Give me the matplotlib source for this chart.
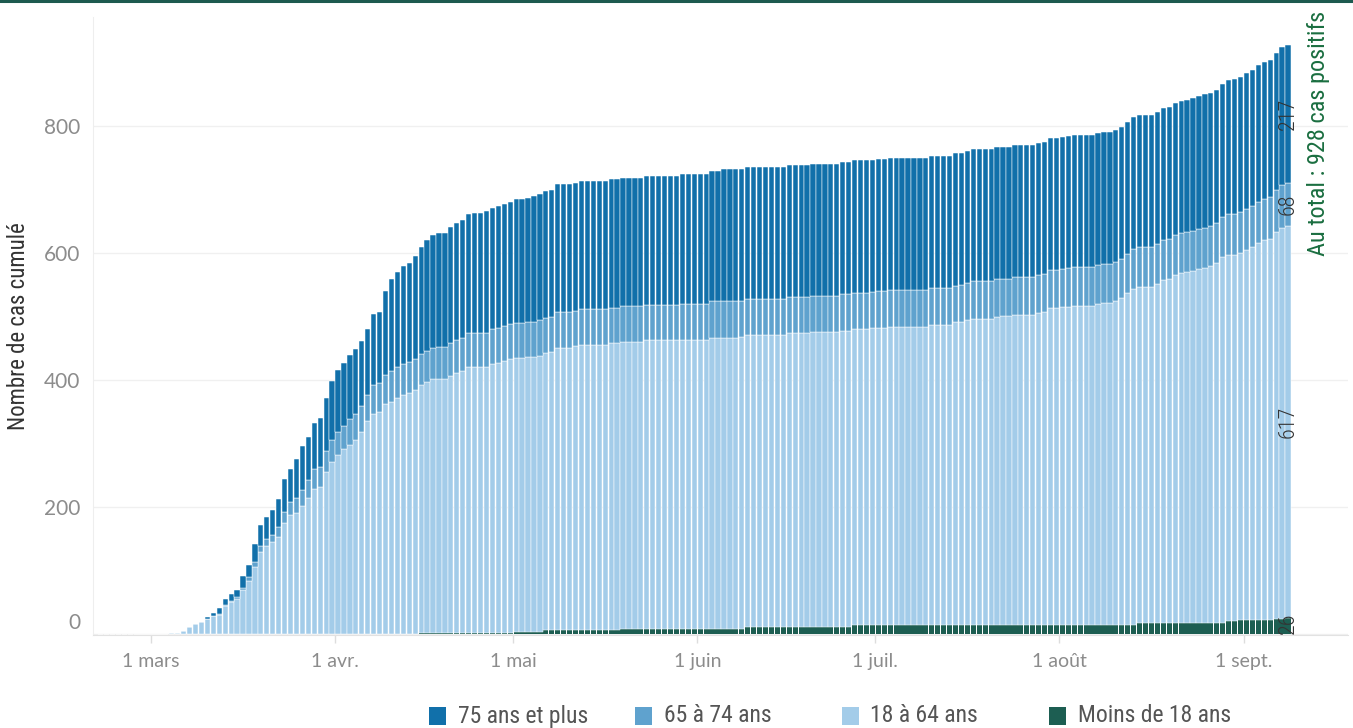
import matplotlib
matplotlib.use("Agg")
import matplotlib.pyplot as plt
import matplotlib.dates as mdates
import pandas as pd
from matplotlib.patches import Rectangle
from matplotlib.lines import Line2D
from matplotlib.transforms import ScaledTranslation

# jours du 21 fevrier au 8 septembre 2020
dates = pd.date_range("2020-02-21", "2020-09-08", freq="D")

# nombre de cas cumule par classe d'age
moins_18 = (
    [0, 0, 0, 0, 0, 0, 0, 0, 0]  # fev
    + [0, 0, 0, 0, 0, 0, 0, 0, 0, 0, 0, 0, 0, 0, 0, 0, 0, 0, 0, 0, 0, 0, 0, 0, 0, 0, 0, 0, 0, 0, 0]  # mars
    + [0, 0, 0, 0, 0, 0, 0, 0, 0, 0, 0, 0, 0, 0, 2, 2, 2, 2, 2, 2, 2, 2, 2, 2, 2, 2, 2, 2, 2, 2]  # avr
    + [4, 4, 4, 4, 4, 6, 6, 6, 6, 6, 6, 6, 6, 6, 6, 6, 6, 6, 8, 8, 8, 8, 8, 8, 8, 8, 8, 8, 8, 8, 8]  # mai
    + [8, 8, 8, 8, 8, 8, 8, 8, 11, 11, 11, 11, 11, 11, 11, 11, 11, 11, 11, 11, 11, 11, 11, 11, 11, 11, 14, 14, 14, 14]  # juin
    + [14, 14, 14, 14, 14, 14, 14, 14, 14, 14, 14, 14, 14, 14, 14, 14, 14, 14, 14, 14, 14, 14, 14, 14, 14, 14, 14, 14, 14, 14, 14]  # juil
    + [14, 14, 14, 14, 14, 14, 14, 14, 14, 14, 14, 14, 14, 17, 17, 17, 17, 17, 17, 17, 17, 17, 17, 17, 17, 17, 17, 17, 20, 20, 22]  # aout
    + [22, 22, 22, 22, 22, 24, 24, 26]  # sept
)
ans_18_64 = (
    [0, 0, 0, 0, 0, 0, 0, 0, 0]
    + [0, 0, 0, 1, 1, 5, 11, 16, 19, 23, 28, 30, 44, 50, 55, 69, 83, 105, 129, 139, 145, 153, 175, 188, 191, 202, 215, 229, 231, 256, 271]
    + [282, 291, 298, 306, 318, 336, 347, 350, 363, 366, 372, 376, 379, 384, 390, 395, 399, 399, 399, 405, 409, 412, 418, 418, 418, 418, 423, 425, 428, 431]
    + [431, 431, 432, 432, 434, 436, 438, 445, 445, 445, 447, 450, 450, 450, 450, 450, 452, 452, 452, 452, 452, 452, 455, 455, 455, 455, 455, 455, 455, 455, 455]
    + [455, 455, 459, 459, 459, 459, 459, 460, 460, 460, 460, 460, 460, 460, 460, 463, 463, 463, 463, 465, 465, 465, 465, 465, 467, 467, 467, 467, 467, 468]
    + [468, 468, 470, 470, 470, 470, 470, 470, 470, 473, 473, 473, 473, 477, 477, 480, 483, 483, 483, 483, 486, 487, 487, 489, 489, 489, 489, 492, 493, 499, 499]
    + [501, 501, 503, 503, 503, 503, 506, 508, 508, 511, 515, 523, 530, 530, 530, 530, 535, 541, 543, 548, 551, 553, 555, 558, 560, 562, 567, 577, 577, 577, 578]
    + [583, 588, 594, 598, 601, 610, 615, 617]
)
ans_65_74 = (
    [0, 0, 0, 0, 0, 0, 0, 0, 0]
    + [0, 0, 0, 0, 0, 0, 0, 0, 0, 1, 1, 2, 2, 2, 3, 4, 7, 9, 10, 11, 11, 16, 17, 20, 23, 25, 27, 31, 32, 32, 35]
    + [37, 37, 41, 41, 41, 41, 45, 45, 45, 48, 48, 49, 49, 49, 49, 49, 49, 51, 51, 51, 52, 52, 54, 55, 55, 55, 55, 55, 55, 55]
    + [55, 55, 55, 56, 56, 56, 56, 56, 56, 56, 56, 56, 56, 56, 56, 56, 56, 56, 56, 56, 56, 56, 56, 56, 56, 56, 56, 56, 57, 57, 57]
    + [57, 57, 57, 57, 57, 57, 57, 57, 57, 57, 57, 57, 57, 57, 57, 57, 57, 57, 57, 57, 57, 57, 57, 57, 57, 57, 57, 57, 57, 57]
    + [58, 58, 58, 58, 58, 58, 58, 58, 58, 58, 58, 58, 58, 58, 59, 59, 59, 59, 59, 59, 59, 59, 59, 59, 59, 60, 60, 60, 60, 60, 60]
    + [60, 61, 61, 61, 61, 61, 61, 61, 61, 61, 62, 62, 62, 62, 62, 63, 63, 63, 63, 63, 63, 63, 63, 63, 63, 63, 63, 63, 64, 65, 65]
    + [65, 65, 65, 65, 65, 65, 68, 68]
)
ans_75_plus = (
    [0, 0, 0, 0, 0, 0, 0, 0, 0]
    + [0, 0, 0, 0, 0, 0, 0, 0, 0, 3, 4, 9, 9, 11, 11, 18, 19, 28, 33, 35, 40, 43, 52, 52, 62, 69, 69, 72, 77, 84, 92]
    + [97, 99, 101, 102, 102, 103, 112, 113, 133, 146, 150, 154, 157, 163, 168, 174, 178, 179, 179, 183, 185, 187, 187, 188, 188, 191, 191, 192, 192, 193]
    + [195, 195, 196, 198, 199, 200, 200, 202, 202, 202, 202, 202, 202, 202, 202, 202, 203, 203, 203, 203, 203, 203, 203, 203, 203, 203, 203, 203, 205, 205, 205]
    + [205, 205, 205, 205, 208, 208, 208, 208, 208, 208, 208, 208, 208, 208, 208, 208, 208, 208, 208, 208, 208, 208, 208, 208, 208, 208, 208, 208, 208, 208]
    + [208, 208, 208, 208, 208, 208, 208, 208, 208, 208, 208, 208, 208, 208, 208, 208, 208, 208, 208, 208, 208, 208, 208, 208, 208, 208, 208, 208, 208, 208, 208]
    + [208, 208, 208, 208, 208, 208, 208, 208, 208, 208, 208, 208, 208, 208, 208, 208, 208, 208, 208, 209, 209, 209, 209, 210, 210, 210, 210, 210, 211, 213, 213]
    + [213, 214, 215, 216, 216, 216, 217, 217]
)

series_names = ["Moins de 18 ans", "18 à 64 ans", "65 à 74 ans", "75 ans et plus"]
series_values = [moins_18, ans_18_64, ans_65_74, ans_75_plus]
colors = ["#1d5e52", "#a3cce9", "#5fa2ce", "#1170aa"]

month_ticks = pd.to_datetime(["2020-03-01", "2020-04-01", "2020-05-01", "2020-06-01",
                              "2020-07-01", "2020-08-01", "2020-09-01"])
month_labels = ["1 mars", "1 avr.", "1 mai", "1 juin", "1 juil.", "1 août", "1 sept."]
y_ticks = [0, 200, 400, 600, 800]

cond = ["Roboto Condensed", "DejaVu Sans Condensed", "Liberation Sans Narrow", "DejaVu Sans"]
light = ["Lato", "Open Sans", "DejaVu Sans"]

W, H = 1353, 728
fig = plt.figure(figsize=(W / 100, H / 100), dpi=100)
ax = fig.add_axes([93 / W, 1 - 635 / H, (1348 - 93) / W, (635 - 17) / H])

x = mdates.date2num(dates) + 0.5
bottom = [0] * len(dates)
for name, vals, col in zip(series_names, series_values, colors):
    # pas de bord blanc pour la petite serie verte, sinon elle disparait
    lw = 0 if name == "Moins de 18 ans" else 0.35
    ax.bar(x, vals, width=0.88, bottom=bottom, color=col, edgecolor="white",
           linewidth=lw, zorder=3)
    bottom = [b + v for b, v in zip(bottom, vals)]

# etiquettes sur la derniere barre
base = 0
for i, vals in enumerate(series_values):
    v = vals[-1]
    if i == 0:
        # le petit segment du bas : etiquette posee sur l'axe
        ax.text(x[-1], base, str(v), rotation=90, ha="center", va="bottom",
                fontsize=16, color="#333333", family=cond, weight="light", zorder=5)
    else:
        ax.text(x[-1], base + v / 2, str(v), rotation=90, ha="center", va="center",
                fontsize=16, color="#333333", family=cond, weight="light", zorder=5)
    base += v

ax.set_xlim(mdates.date2num(pd.Timestamp("2020-02-20")) + 0.23,
            mdates.date2num(pd.Timestamp("2020-09-18")) + 0.6)
ax.set_ylim(-1.5, 972)

ax.set_yticks(y_ticks)
ax.set_yticklabels([str(t) for t in y_ticks], family=light, fontsize=15, color="#8c8c8c")
ax.tick_params(axis="y", length=0, pad=9)
lab0 = ax.get_yticklabels()[0]
lab0.set_transform(lab0.get_transform() + ScaledTranslation(0, 0.13, fig.dpi_scale_trans))

ax.set_xticks(mdates.date2num(month_ticks))
ax.set_xticklabels(month_labels, family=light, fontsize=14, color="#8c8c8c")
ax.tick_params(axis="x", length=6, width=1, color="#dddddd", pad=7)

ax.grid(axis="y", color="#f0f0f0", linewidth=1)
ax.set_axisbelow(True)
for s in ["top", "right"]:
    ax.spines[s].set_visible(False)
ax.spines["left"].set_color("#eeeeee")
ax.spines["bottom"].set_color("#e2e2e2")

ax.set_ylabel("Nombre de cas cumulé", family=cond, fontsize=16.5, color="#333333",
              va="center")
ax.yaxis.set_label_coords(-(93 - 19) / (1348 - 93), 0.5)

fig.text(1318 / W, 1 - 133 / H, "Au total : 928 cas positifs", rotation=90,
         ha="center", va="center", fontsize=17.5, color="#1a6e40", family=cond)

# ligne verte en haut
fig.add_artist(Line2D([0, 1], [1 - 1 / H, 1 - 1 / H], transform=fig.transFigure,
                      color="#1d5a4f", linewidth=2.2))

# legende
leg_sq = [429, 635, 842, 1049]
leg_tx = [458, 664, 870, 1078]
for name, col, sx, tx in zip(series_names[::-1], colors[::-1], leg_sq, leg_tx):
    fig.add_artist(Rectangle((sx / W, 1 - 725 / H), 17 / W, 18 / H,
                             transform=fig.transFigure, facecolor=col, edgecolor="none"))
    fig.text(tx / W, 1 - 716 / H, name, ha="left", va="center", fontsize=17,
             color="#555555", family=cond)

fig.savefig("out.png", dpi=100)
